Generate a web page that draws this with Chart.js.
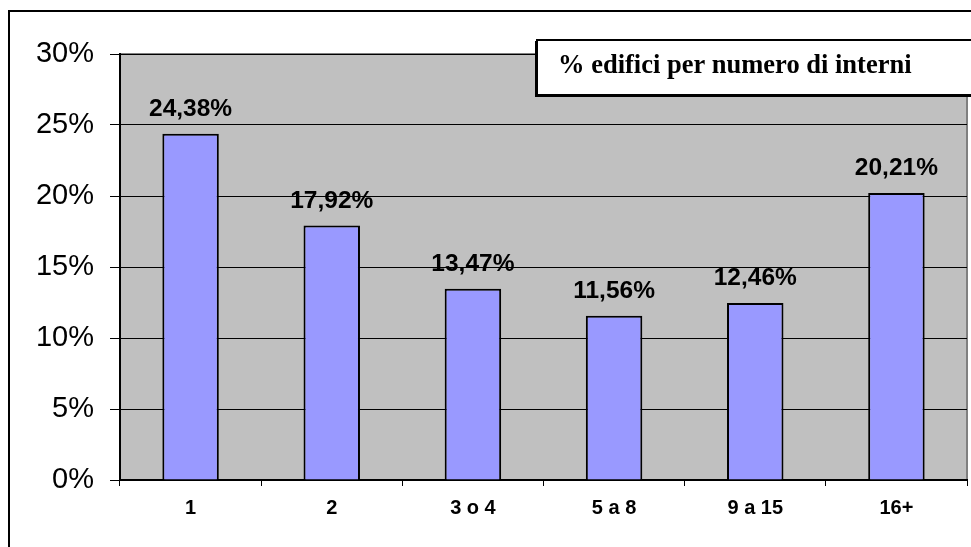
<!DOCTYPE html>
<html>
<head>
<meta charset="utf-8">
<script src="https://cdn.jsdelivr.net/npm/chart.js@4"></script>
<style>
  html, body { margin: 0; padding: 0; background: #fff; }
  #wrap { width: 971px; height: 547px; position: relative; }
</style>
</head>
<body>
<div id="wrap"><canvas id="chart" width="971" height="547"></canvas></div>
<script>
// categorie e valori (percentuali)
var categories = ['1', '2', '3 o 4', '5 a 8', '9 a 15', '16+'];
var values = [24.38, 17.92, 13.47, 11.56, 12.46, 20.21];
var yTicks = [0, 5, 10, 15, 20, 25, 30];
var titleText = '% edifici per numero di interni';

function fmtPct(v) {
    return v.toFixed(2).replace('.', ',') + '%';
}

// sfondo grigio, cornice esterna, riquadro titolo
var decorPlugin = {
    id: 'decor',
    beforeDraw: function(chart) {
        var c = chart.ctx;
        var a = chart.chartArea;
        c.save();
        c.fillStyle = '#fff';
        c.fillRect(0, 0, chart.width, chart.height);
        c.fillStyle = '#C0C0C0';
        c.fillRect(a.left, a.top, a.right - a.left, a.bottom - a.top);
        c.strokeStyle = '#808080';
        c.lineWidth = 2;
        c.beginPath();
        c.moveTo(a.left, a.top);
        c.lineTo(a.right, a.top);
        c.lineTo(a.right, a.bottom);
        c.stroke();
        c.restore();
    },
    afterDraw: function(chart) {
        var c = chart.ctx;
        c.save();
        // cornice esterna
        c.strokeStyle = '#000';
        c.lineWidth = 2;
        c.strokeRect(9, 11, 1000, 600);
        // riquadro titolo
        c.fillStyle = '#000';
        c.fillRect(535, 41, 450, 56);
        c.fillStyle = '#fff';
        c.fillRect(537, 40, 450, 55);
        c.strokeStyle = '#000';
        c.lineWidth = 2;
        c.strokeRect(537, 40, 450, 55);
        c.fillStyle = '#000';
        c.font = 'bold 26.5px "Liberation Serif", "Times New Roman", serif';
        c.textBaseline = 'alphabetic';
        c.textAlign = 'left';
        c.fillText(titleText, 558, 73);
        c.restore();
    }
};

// etichette sopra le barre
var labelPlugin = {
    id: 'barLabels',
    afterDatasetsDraw: function(chart) {
        var c = chart.ctx;
        var meta = chart.getDatasetMeta(0);
        c.save();
        c.fillStyle = '#000';
        c.font = 'bold 24.5px "Liberation Sans", Arial, sans-serif';
        c.textAlign = 'center';
        c.textBaseline = 'alphabetic';
        meta.data.forEach(function(bar, i) {
            c.fillText(fmtPct(values[i]), bar.x, bar.y - 18);
        });
        c.restore();
    }
};

new Chart(document.getElementById('chart').getContext('2d'), {
    type: 'bar',
    data: {
        labels: categories,
        datasets: [{
            data: values,
            backgroundColor: '#9999FF',
            borderColor: '#000',
            borderWidth: 2,
            categoryPercentage: 1,
            barPercentage: 0.40
        }]
    },
    options: {
        responsive: false,
        animation: false,
        layout: { padding: { left: 0, top: 54, right: 4, bottom: 0 } },
        plugins: {
            legend: { display: false },
            tooltip: { enabled: false }
        },
        scales: {
            x: {
                afterFit: function(s) { s.height = 67; },
                grid: { drawOnChartArea: false, drawTicks: true, tickLength: 6, color: '#000', offset: true },
                border: { color: '#000', width: 2 },
                ticks: {
                    color: '#000',
                    padding: 10,
                    font: { family: '"Liberation Sans", Arial, sans-serif', size: 20, weight: 'bold' }
                }
            },
            y: {
                min: 0,
                max: 30,
                afterFit: function(s) { s.width = 120; },
                afterBuildTicks: function(s) { s.ticks = yTicks.map(function(v) { return { value: v }; }); },
                grid: { color: '#000', lineWidth: 1, tickLength: 10 },
                border: { color: '#000', width: 2 },
                ticks: {
                    color: '#000',
                    padding: 16,
                    font: { family: '"Liberation Sans", Arial, sans-serif', size: 29 },
                    callback: function(v) { return v + '%'; }
                }
            }
        }
    },
    plugins: [decorPlugin, labelPlugin]
});
</script>
</body>
</html>
